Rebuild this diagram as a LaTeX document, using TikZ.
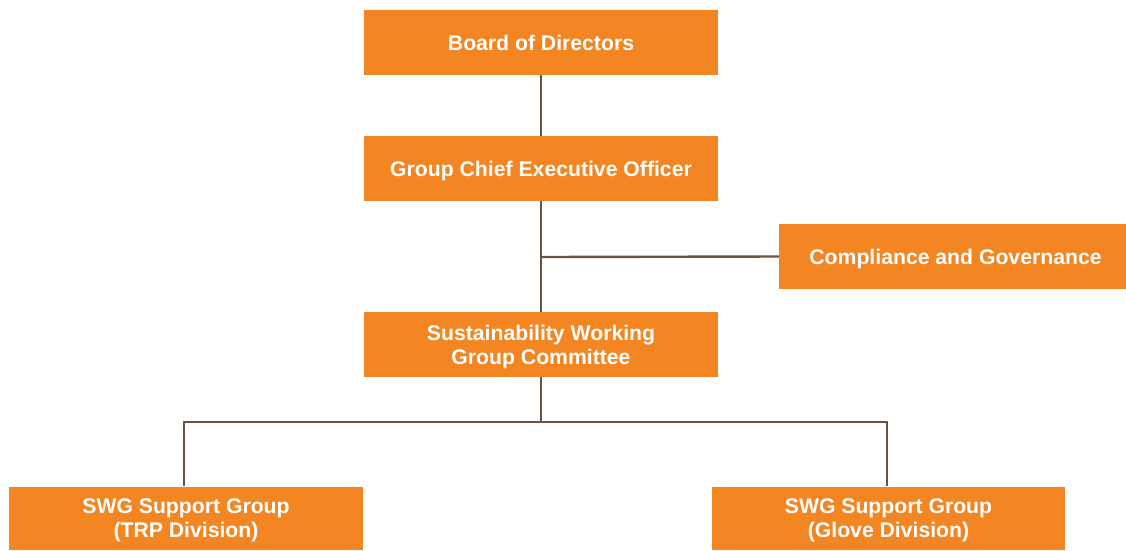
\documentclass[tikz,border=0pt]{standalone}
\usepackage{fontspec}
\setmainfont{Liberation Sans}
\definecolor{boxorange}{HTML}{F38623}
\definecolor{linebrown}{HTML}{6E5140}
\begin{document}
\begin{tikzpicture}[x=1pt,y=-1pt,
  orgbox/.style={fill=boxorange, draw=none, inner sep=0pt, text=white, align=center,
    text depth=0pt, font=\fontsize{21.2}{24}\selectfont\bfseries},
  conn/.style={draw=linebrown, line width=2.4pt}]
\useasboundingbox (0,0) rectangle (1126,550);
\node[orgbox, minimum width=354, minimum height=65] (bod) at (541,42.5) {Board of Directors};
\node[orgbox, minimum width=354, minimum height=65] (ceo) at (541,168.5) {Group Chief Executive Officer};
\node[orgbox, minimum width=347, minimum height=65] (cg) at (952.5,256.5) {\hspace*{6pt}Compliance and Governance};
\node[orgbox, minimum width=354, minimum height=65] (swc) at (541,344.5) {Sustainability Working\\Group Committee};
\node[orgbox, minimum width=354, minimum height=63] (trp) at (186,518) {SWG Support Group\\(TRP Division)};
\node[orgbox, minimum width=353, minimum height=63] (glv) at (888.5,518) {SWG Support Group\\(Glove Division)};
\coordinate (j1) at (541,257);
\coordinate (j2) at (541,422);
\draw[conn] (bod.south) -- (ceo.north);
\draw[conn] (ceo.south) -- (swc.north);
\draw[conn] (j1) -- (cg.west);
\draw[conn] (swc.south) -- (j2);
\draw[conn] (trp.north -| 184,0) |- (j2) -| (glv.north -| 887,0);
\end{tikzpicture}
\end{document}
